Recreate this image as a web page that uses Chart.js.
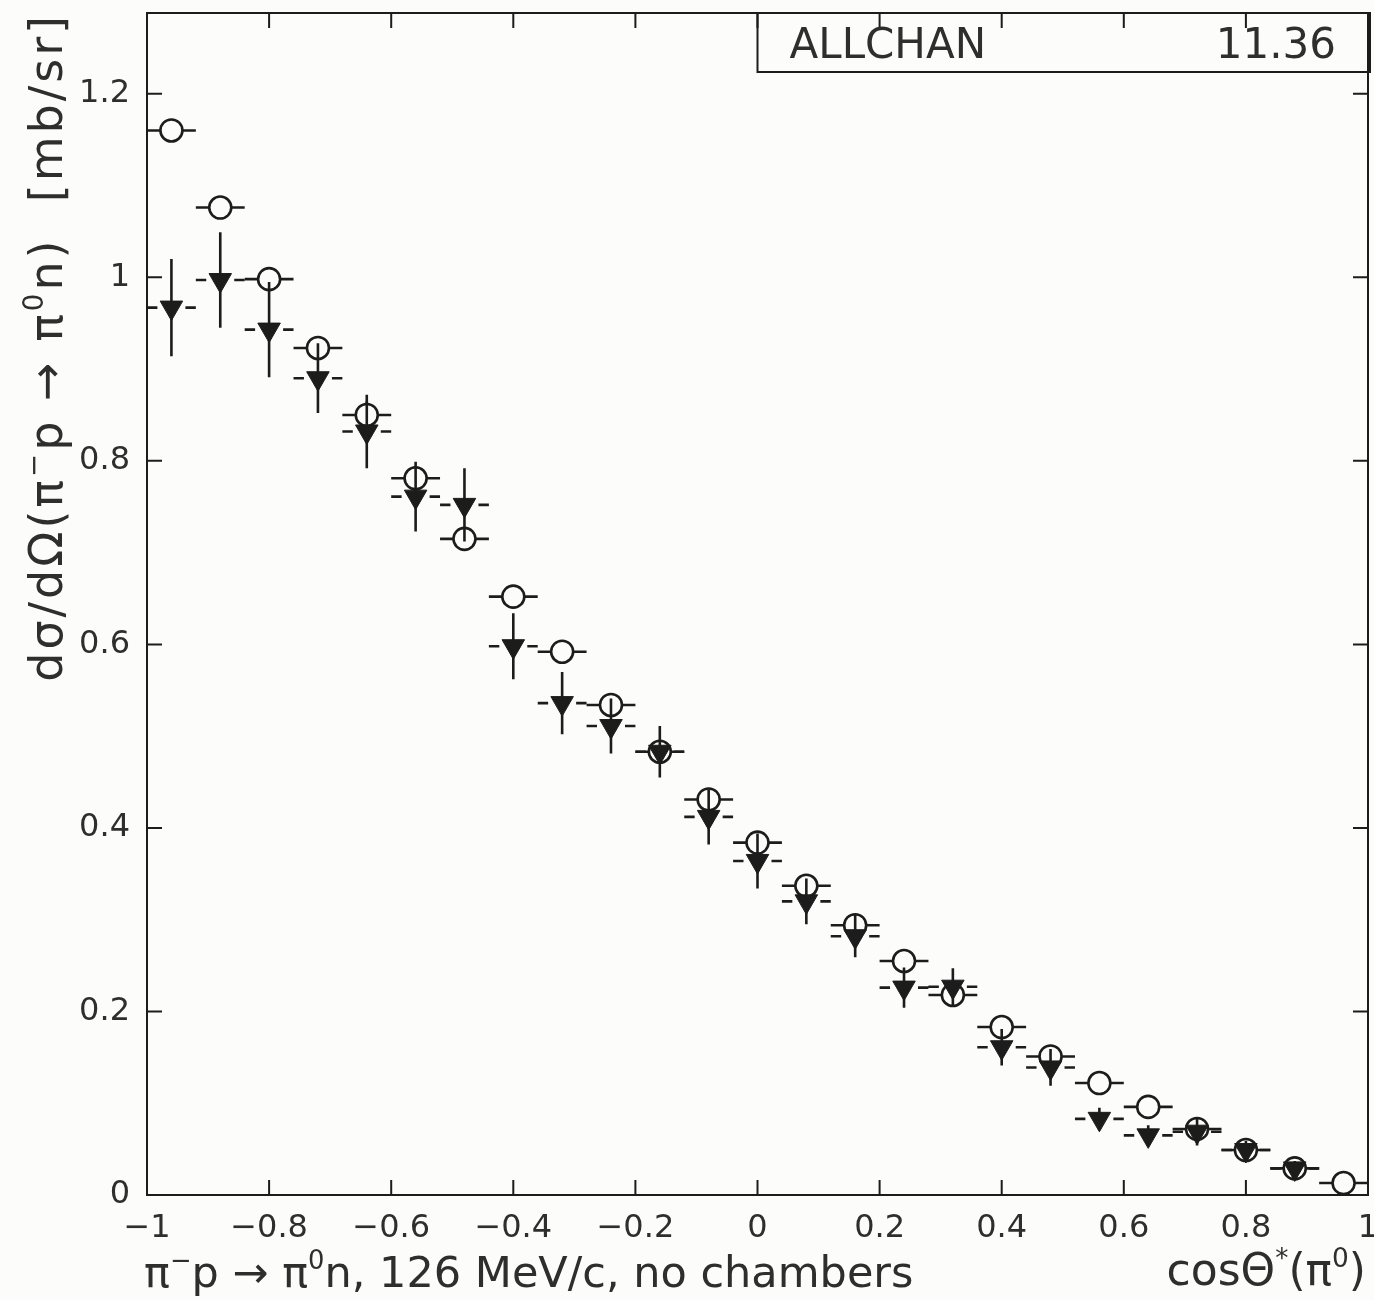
<!DOCTYPE html>
<html>
<head>
<meta charset="utf-8">
<script src="https://cdn.jsdelivr.net/npm/chart.js@4.4.0/dist/chart.umd.min.js"></script>
<style>
  html, body { margin: 0; padding: 0; background: #fcfcfa; }
  #wrap { width: 1374px; height: 1300px; }
</style>
</head>
<body>
<div id="wrap"><canvas id="xsec" width="1374" height="1300"></canvas></div>
<script>
// bin centres in cos(theta*), bins are 0.08 wide
var cosTheta = [-0.96, -0.88, -0.80, -0.72, -0.64, -0.56, -0.48, -0.40, -0.32, -0.24, -0.16, -0.08,
                0.00, 0.08, 0.16, 0.24, 0.32, 0.40, 0.48, 0.56, 0.64, 0.72, 0.80, 0.88, 0.96];
var binHalf = 0.04;

// open circles
var circleVals = [1.160, 1.076, 0.998, 0.923, 0.850, 0.781, 0.715, 0.652, 0.592, 0.534, 0.483, 0.431,
                  0.384, 0.337, 0.294, 0.255, 0.218, 0.183, 0.151, 0.122, 0.096, 0.072, 0.049, 0.029, 0.013];
var circleErrs = [0.012, 0.012, 0.012, 0.012, 0.015, 0.012, 0.011, 0.010, 0.010, 0.009, 0.009, 0.008,
                  0.008, 0.007, 0.007, 0.006, 0.006, 0.005, 0.005, 0.004, 0.004, 0.004, 0.003, 0.003, 0.003];

// filled triangles (no entry in the last bin)
var triVals = [0.967, 0.997, 0.943, 0.890, 0.832, 0.761, 0.752, 0.598, 0.536, 0.511, 0.483, 0.412,
               0.364, 0.320, 0.282, 0.226, 0.227, 0.161, 0.139, 0.083, 0.065, 0.069, 0.049, 0.029, null];
var triErrs = [0.053, 0.052, 0.052, 0.038, 0.040, 0.038, 0.040, 0.036, 0.034, 0.030, 0.028, 0.030,
               0.030, 0.025, 0.023, 0.022, 0.020, 0.020, 0.020, 0.012, 0.011, 0.015, 0.010, 0.008, null];

var xTicks = [-1, -0.8, -0.6, -0.4, -0.2, 0, 0.2, 0.4, 0.6, 0.8, 1];
var yTicks = [0, 0.2, 0.4, 0.6, 0.8, 1.0, 1.2];

var INK = '#1c1c1c';
var TEXT = '#2e2e2e';
var FONT = '"DejaVu Sans", sans-serif';

function points(vals, errs) {
    var out = [];
    for (var i = 0; i < cosTheta.length; i++) {
        if (vals[i] === null) continue;
        out.push({ x: cosTheta[i], y: vals[i], err: errs[i] });
    }
    return out;
}

function tickText(v) {
    var s = (Math.round(v * 10) / 10).toString();
    return s.replace('-', '\u2212');
}

// text with superscripts, drawn from current origin, left aligned
function richWidth(ctx, runs, size) {
    var w = 0;
    runs.forEach(function (r) {
        ctx.font = (r.sup ? size * 0.6 : size) + 'px ' + FONT;
        w += ctx.measureText(r.t).width;
    });
    return w;
}
function drawRich(ctx, runs, size) {
    var x = 0;
    runs.forEach(function (r) {
        ctx.font = (r.sup ? size * 0.6 : size) + 'px ' + FONT;
        ctx.fillText(r.t, x, r.sup ? -size * 0.42 : 0);
        x += ctx.measureText(r.t).width;
    });
}

var yTitle = [{ t: 'd\u03c3/d\u03a9(\u03c0' }, { t: '\u2212', sup: true }, { t: 'p \u2192 \u03c0' },
              { t: '0', sup: true }, { t: 'n)  [mb/sr]' }];
var xTitle = [{ t: '\u03c0' }, { t: '\u2212', sup: true }, { t: 'p \u2192 \u03c0' }, { t: '0', sup: true },
              { t: 'n, 126 MeV/c, no chambers' }];
var xTitleRight = [{ t: 'cos\u0398' }, { t: '*', sup: true }, { t: '(\u03c0' }, { t: '0', sup: true }, { t: ')' }];

// ------------------------------------------------------- //
// frame, inward ticks, error bars
// ------------------------------------------------------ //
var framePlugin = {
    id: 'frame',
    beforeDatasetsDraw: function (chart) {
        var ctx = chart.ctx, a = chart.chartArea;
        var xs = chart.scales.x, ys = chart.scales.y;
        ctx.save();
        ctx.strokeStyle = INK;
        ctx.lineWidth = 2;
        ctx.strokeRect(a.left, a.top, a.right - a.left, a.bottom - a.top);
        ctx.beginPath();
        xTicks.forEach(function (v) {
            var px = xs.getPixelForValue(v);
            ctx.moveTo(px, a.bottom); ctx.lineTo(px, a.bottom - 15);
            ctx.moveTo(px, a.top); ctx.lineTo(px, a.top + 15);
        });
        yTicks.forEach(function (v) {
            var py = ys.getPixelForValue(v);
            ctx.moveTo(a.left, py); ctx.lineTo(a.left + 15, py);
            ctx.moveTo(a.right, py); ctx.lineTo(a.right - 15, py);
        });
        ctx.stroke();

        // error bars, broken where the marker sits
        ctx.lineWidth = 2.6;
        chart.data.datasets.forEach(function (ds) {
            ctx.beginPath();
            ds.data.forEach(function (p) {
                var px = xs.getPixelForValue(p.x), py = ys.getPixelForValue(p.y);
                var x0 = xs.getPixelForValue(p.x - binHalf), x1 = xs.getPixelForValue(p.x + binHalf);
                var yTop = ys.getPixelForValue(p.y + p.err), yBot = ys.getPixelForValue(p.y - p.err);
                ctx.moveTo(x0, py); ctx.lineTo(px - ds.gapX, py);
                ctx.moveTo(px + ds.gapX, py); ctx.lineTo(x1, py);
                if (py - yTop > ds.gapY) { ctx.moveTo(px, yTop); ctx.lineTo(px, py - ds.gapY); }
                if (yBot - py > ds.gapY) { ctx.moveTo(px, py + ds.gapY); ctx.lineTo(px, yBot); }
            });
            ctx.stroke();
        });
        ctx.restore();
    },
    afterDraw: function (chart) {
        var ctx = chart.ctx, a = chart.chartArea;
        var xs = chart.scales.x;
        ctx.save();
        ctx.fillStyle = TEXT;
        ctx.textBaseline = 'alphabetic';

        // stat box
        var bx = xs.getPixelForValue(0);
        ctx.strokeStyle = INK;
        ctx.lineWidth = 2;
        ctx.strokeRect(bx, a.top, a.right + 2 - bx, 59);
        ctx.font = '42px ' + FONT;
        ctx.textAlign = 'left';
        ctx.fillText('ALLCHAN', bx + 32, a.top + 45);
        ctx.textAlign = 'right';
        ctx.fillText('11.36', a.right - 32, a.top + 45);
        ctx.textAlign = 'left';

        // x title, two pieces
        ctx.save();
        ctx.translate(a.left - 3, 1287);
        drawRich(ctx, xTitle, 43);
        ctx.restore();

        ctx.save();
        var wR = richWidth(ctx, xTitleRight, 44);
        ctx.translate(a.right - 2 - wR, 1285);
        drawRich(ctx, xTitleRight, 44);
        ctx.restore();

        // y title, rotated, ending at the top of the frame
        ctx.save();
        ctx.letterSpacing = '3px';
        var wY = richWidth(ctx, yTitle, 46);
        ctx.translate(62, a.top + wY);
        ctx.rotate(-Math.PI / 2);
        drawRich(ctx, yTitle, 46);
        ctx.restore();

        ctx.restore();
    }
};

var ctx1 = document.getElementById('xsec').getContext('2d');
var xsecChart = new Chart(ctx1, {
    type: 'scatter',
    data: {
        datasets: [
            {
                label: 'triangles',
                data: points(triVals, triErrs),
                pointStyle: 'triangle',
                rotation: 180,
                pointRadius: 13,
                pointHoverRadius: 13,
                backgroundColor: INK,
                borderColor: INK,
                borderWidth: 1,
                gapX: 14,
                gapY: 0
            },
            {
                label: 'circles',
                data: points(circleVals, circleErrs),
                pointStyle: 'circle',
                pointRadius: 11,
                pointHoverRadius: 11,
                backgroundColor: 'rgba(0,0,0,0)',
                borderColor: INK,
                borderWidth: 2.6,
                gapX: 11,
                gapY: 11
            }
        ]
    },
    options: {
        responsive: false,
        animation: false,
        devicePixelRatio: 1,
        layout: { autoPadding: false, padding: { top: 13, right: 6, left: 0, bottom: 0 } },
        plugins: { legend: { display: false }, tooltip: { enabled: false } },
        scales: {
            x: {
                type: 'linear',
                min: -1,
                max: 1,
                grid: { display: false, drawTicks: false, tickLength: 0 },
                border: { display: false },
                afterBuildTicks: function (s) { s.ticks = xTicks.map(function (v) { return { value: v }; }); },
                afterFit: function (s) { s.height = 105; s.paddingLeft = 0; s.paddingRight = 0; },
                ticks: {
                    padding: 14,
                    maxRotation: 0,
                    autoSkip: false,
                    color: TEXT,
                    font: { family: FONT, size: 32 },
                    callback: tickText
                }
            },
            y: {
                type: 'linear',
                min: 0,
                max: 1.288,
                grid: { display: false, drawTicks: false, tickLength: 0 },
                border: { display: false },
                afterBuildTicks: function (s) { s.ticks = yTicks.map(function (v) { return { value: v }; }); },
                afterFit: function (s) { s.width = 147; s.paddingTop = 0; s.paddingBottom = 0; },
                ticks: {
                    padding: 17,
                    autoSkip: false,
                    color: TEXT,
                    font: { family: FONT, size: 32 },
                    callback: tickText
                }
            }
        }
    },
    plugins: [framePlugin]
});
</script>
</body>
</html>
